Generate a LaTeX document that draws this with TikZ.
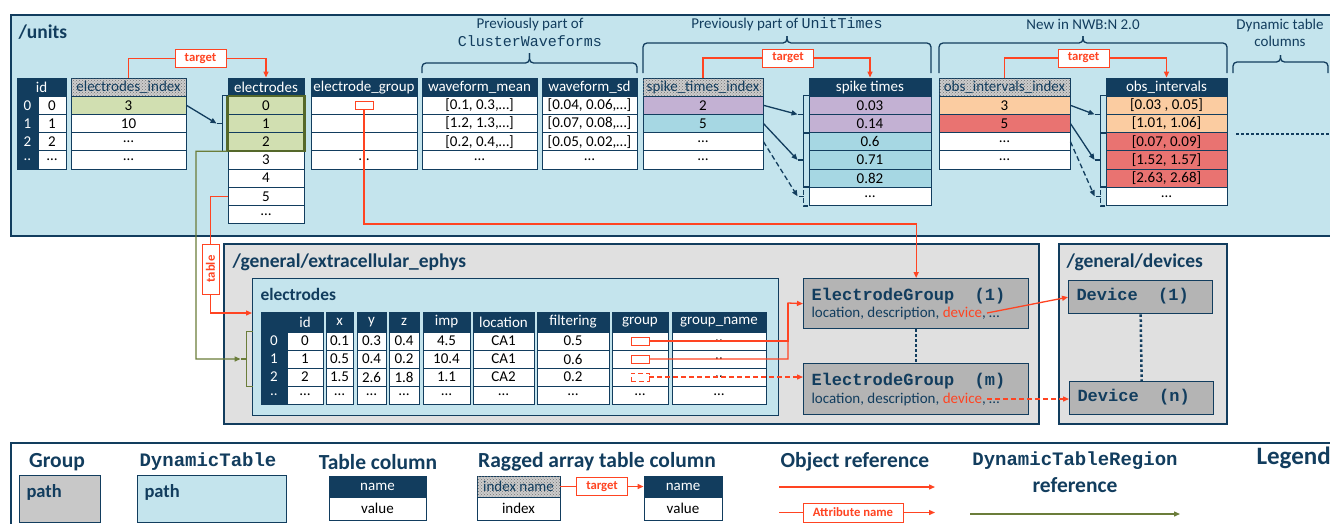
\documentclass[tikz,border=0pt]{standalone}
\usepackage{fontspec}
\setmainfont{Carlito}
\newfontfamily\mono{Liberation Mono}
\usetikzlibrary{arrows.meta,calc,patterns}
\definecolor{cnavy}{HTML}{123D5E}
\definecolor{lblue}{HTML}{C4E4ED}
\definecolor{grayg}{HTML}{E0E0E0}
\definecolor{grayd}{HTML}{B4B4B4}
\definecolor{grayl}{HTML}{C8C8C8}
\definecolor{cgreen}{HTML}{D1DFB1}
\definecolor{colive}{HTML}{6B7D3A}
\definecolor{colived}{HTML}{55682A}
\definecolor{cpurple}{HTML}{C3B1D3}
\definecolor{ccyan}{HTML}{A6D7E3}
\definecolor{corange}{HTML}{FBCCA1}
\definecolor{csalmon}{HTML}{E97371}
\definecolor{redc}{HTML}{FF4422}
\newcommand\myfs[1]{\fontsize{#1}{\dimexpr #1pt*115/100\relax}\selectfont}
\def\hh{18.2}\def\rh{18.2}
\newcommand\mkcells[5]{%
  \pgfmathsetmacro\cx{(#2+#3)/2}\pgfmathsetmacro\cw{#3-#2}%
  \foreach \fc/\tx [count=\kk from 0] in {#5} {%
    \node[cell,\fc,minimum width=\cw*1pt] (#1-\kk) at (\cx,{#4+\hh+\rh*\kk+\rh/2}) {\tx};}%
}
\newcommand\mkcol[7]{%
  \pgfmathsetmacro\cx{(#2+#3)/2}\pgfmathsetmacro\cw{#3-#2}%
  \node[#5,minimum width=\cw*1pt,minimum height=\hh*1pt] (#1-h) at (\cx,{#4+\hh/2}) {#6};
  \mkcells{#1}{#2}{#3}{#4}{#7}%
}
\newcommand\brkt[4]{%
  \draw[#4] (#1.north west) -- ++(-5,0) |- (#2.south west);
  \draw[#4] ($(#1.north west)!0.5!(#2.south west)+(-5,0)$) -- ++(-6,0) coordinate (#3);
}
\newcommand\cbrace[5]{%
  \pgfmathsetmacro\xm{(#1+#2)/2}%
  \draw[nv, rounded corners=4pt] (#1,#3) -- (#1,#4) -- (\xm,#4) -- (\xm,#5);
  \draw[nv, rounded corners=4pt] (#2,#3) -- (#2,#4) -- (\xm,#4) -- (\xm,#5);
}
\tikzset{
  cell/.style={draw=cnavy, line width=0.9pt, minimum height=\rh*1pt, inner sep=0pt, font=\myfs{15}, text=black, fill=white},
  hdr/.style={cell, fill=cnavy, text=white},
  hatch/.style={cell, fill=gray!40, postaction={pattern=crosshatch dots, pattern color=black!55}, text=cnavy},
  cw/.style={fill=white}, cg/.style={fill=cgreen}, cp/.style={fill=cpurple},
  cb/.style={fill=ccyan}, co/.style={fill=corange}, cr/.style={fill=csalmon},
  cd/.style={fill=cnavy, text=white},
  dsh/.style={dash pattern=on 5pt off 3pt},
  nv/.style={draw=cnavy, line width=1.3pt},
  nva/.style={nv, -{Triangle[length=6pt,width=5pt]}},
  rl/.style={draw=redc, line width=1.3pt},
  rla/.style={rl, -{Triangle[length=6pt,width=5pt]}},
  olv/.style={draw=colive, line width=1.3pt},
  olva/.style={olv, -{Triangle[length=6pt,width=5pt]}},
  tgt/.style={draw=redc, fill=white, line width=1pt, text=redc, font=\bfseries\myfs{12.7}, minimum width=51pt, minimum height=18pt, inner sep=1pt},
  gm/.style={draw=redc, line width=0.9pt, fill=white, minimum width=18pt, minimum height=8pt, inner sep=0pt},
  gbox/.style={draw=cnavy, line width=1.5pt, fill=grayg, inner sep=0pt},
  ebox/.style={draw=cnavy, line width=1.3pt, fill=grayd, inner sep=0pt},
  ubox/.style={draw=cnavy, line width=1.8pt, fill=lblue, inner sep=0pt},
  lbl/.style={text=cnavy, font=\myfs{15}},
  ttl/.style={text=cnavy, font=\bfseries\myfs{19.5}, anchor=west},
  ltitle/.style={text=cnavy, font=\bfseries\myfs{21.5}},
  dotv/.style={draw=cnavy, line width=2.5pt, dash pattern=on 2.5pt off 2.5pt},
  mt/.style={text=cnavy, font=\mono\bfseries\myfs{17}, anchor=west},
}
\begin{document}
\begin{tikzpicture}[x=1pt,y=-1pt]
\useasboundingbox (0,0) rectangle (1330,523);
\clip (0,0) rectangle (1330,523);
\fill[white] (0,0) rectangle (1330,523);

% ---------- /units ----------
\node[ubox, anchor=north west, minimum width=1340pt, minimum height=221pt] (units) at (10,14) {};
\node[ttl] (unitsT) at (15,32) {/units};

\node[hdr, minimum width=49pt, minimum height=18.2pt] (id-h) at (41.5,87.1) {id};
\mkcells{ix}{17}{38}{78}{cd/0,cd/1,cd/2,cd/..}
\mkcells{id}{38}{66}{78}{cw/0,cw/1,cw/2,cw/\ldots}
\mkcol{ei}{71}{186}{78}{hatch}{electrodes\_index}{cg/3,cw/10,cw/\ldots,cw/\ldots}
\mkcol{el}{228}{304}{78}{hdr}{electrodes}{cg/0,cg/1,cg/2,cw/3,cw/4,cw/5,cw/\ldots}
\mkcol{eg}{311}{417}{78}{hdr}{electrode\_group}{cw/{},cw/{},cw/{},cw/\ldots}
\mkcol{wm}{422}{537}{78}{hdr}{waveform\_mean}{cw/{[0.1, 0.3,\ldots]},cw/{[1.2, 1.3,\ldots]},cw/{[0.2, 0.4,\ldots]},cw/\ldots}
\mkcol{ws}{542}{637}{78}{hdr}{waveform\_sd}{cw/{[0.04, 0.06,\ldots]},cw/{[0.07, 0.08,\ldots]},cw/{[0.05, 0.02,\ldots]},cw/\ldots}
\mkcol{sti}{643}{763}{78}{hatch}{spike\_times\_index}{cp/2,cb/5,cw/\ldots,cw/\ldots}
\mkcol{st}{809}{931}{78}{hdr}{spike times}{cp/0.03,cp/0.14,cb/0.6,cb/0.71,cb/0.82,cw/\ldots}
\mkcol{oi}{939}{1070}{78}{hatch}{obs\_intervals\_index}{co/3,cr/5,cw/\ldots,cw/\ldots}
\mkcol{oc}{1106}{1227}{78}{hdr}{obs\_intervals}{co/{[0.03 , 0.05]},co/{[1.01, 1.06]},cr/{[0.07, 0.09]},cr/{[1.52, 1.57]},cr/{[2.63, 2.68]},cw/\ldots}

\draw[draw=colived, line width=2.4pt] (el-0.north west) rectangle (el-2.south east);

% targets
\node[tgt] (t1) at (200.5,58.5) {target};
\draw[rl] (ei-h.north) |- (t1.west);
\draw[rla] (t1.east) -| (el-h.north);
\node[tgt] (t2) at (788,58) {target};
\draw[rl] (sti-h.north) |- (t2.west);
\draw[rla] (t2.east) -| (st-h.north);
\node[tgt] (t3) at (1083.5,58) {target};
\draw[rl] (oi-h.north) |- (t3.west);
\draw[rla] (t3.east) -| (oc-h.north);

% brackets
\brkt{el-0}{el-2}{bel}{nv}
\draw[nva] (ei-0.east) -- (bel);
\brkt{st-0}{st-1}{bs1}{nv}
\brkt{st-2}{st-4}{bs2}{nv}
\brkt{st-5}{st-5}{bs3}{nv,dsh}
\draw[nva] (sti-0.east) -- (bs1);
\draw[nva] (sti-1.east) -- (bs2);
\draw[nva,dsh] (sti-2.east) -- (bs3);
\brkt{oc-0}{oc-1}{bo1}{nv}
\brkt{oc-2}{oc-4}{bo2}{nv}
\brkt{oc-5}{oc-5}{bo3}{nv,dsh}
\draw[nva] (oi-0.east) -- (bo1);
\draw[nva] (oi-1.east) -- (bo2);
\draw[nva,dsh] (oi-2.east) -- (bo3);

% braces and labels
\cbrace{422}{637}{73}{63}{53}
\cbrace{643}{931}{73}{43}{36}
\cbrace{939}{1227}{73}{43}{36}
\cbrace{1233}{1328}{73}{62}{55}
\node[lbl] (l1) at (530,24) {Previously part of};
\node[lbl, font=\mono\myfs{15}] (l1b) at (530,41) {ClusterWaveforms};
\node[lbl] (l2) at (787,24) {Previously part of {\mono UnitTimes}};
\node[lbl] (l3) at (1083,24) {New in NWB:N 2.0};
\node[lbl, align=center] (l4) at (1280,32.5) {Dynamic table\\columns};
\coordinate (dd1) at (1236,134);
\coordinate (dd2) at (1330,134);
\draw[dotv] (dd1) -- (dd2);

% electrode group marker
\node[gm] (egr) at (eg-0.center) {};

% ---------- /general/extracellular_ephys ----------
\node[gbox, anchor=north west, minimum width=815pt, minimum height=180pt] (ext) at (223,243) {};
\node[ttl] (extT) at (229,262) {/general/extracellular\_ephys};
\node[ubox, line width=1.4pt, anchor=north west, minimum width=526pt, minimum height=137pt] (dt) at (252,278) {};
\node[ttl, font=\bfseries\myfs{17.4}] (dtT) at (257,294) {electrodes};

\def\hh{20}\def\rh{18}
\mkcol{bi}{261}{287}{312}{hdr}{}{cd/0,cd/1,cd/2,cd/..}
\mkcol{bid}{287}{323}{312}{hdr}{id}{cw/0,cw/1,cw/2,cw/\ldots}
\mkcol{bx}{326}{353}{312}{hdr}{x}{cw/0.1,cw/0.5,cw/1.5,cw/\ldots}
\mkcol{by}{357}{386}{312}{hdr}{y}{cw/0.3,cw/0.4,cw/2.6,cw/\ldots}
\mkcol{bz}{389}{419}{312}{hdr}{z}{cw/0.4,cw/0.2,cw/1.8,cw/\ldots}
\mkcol{bimp}{423}{470}{312}{hdr}{imp}{cw/4.5,cw/10.4,cw/1.1,cw/\ldots}
\mkcol{bloc}{473}{534}{312}{hdr}{location}{cw/CA1,cw/CA1,cw/CA2,cw/\ldots}
\mkcol{bfil}{537}{609}{312}{hdr}{filtering}{cw/0.5,cw/0.6,cw/0.2,cw/\ldots}
\mkcol{bgr}{612}{668}{312}{hdr}{group}{cw/{},cw/{},cw/{},cw/\ldots}
\mkcol{bgn}{672}{766}{312}{hdr}{group\_name}{cw/..,cw/..,cw/..,cw/\ldots}

\node[gm] (gm0) at (bgr-0.center) {};
\node[gm] (gm1) at (bgr-1.center) {};
\node[gm, dsh] (gm2) at (bgr-2.center) {};

\node[ebox, anchor=north west, minimum width=225pt, minimum height=50pt] (eg1) at (803,278) {};
\node[ebox, anchor=north west, minimum width=225pt, minimum height=51pt] (egm) at (803,363) {};
\node[mt] (eg1t) at (808,296) {ElectrodeGroup\ \ (1)};
\node[anchor=west, font=\myfs{15}, text=cnavy] (eg1s) at (808,313.5) {location, description, {\color{redc}device}, \ldots};
\node[mt] (egmt) at (808,381) {ElectrodeGroup\ \ (m)};
\node[anchor=west, font=\myfs{15}, text=cnavy] (egms) at (808,399) {location, description, {\color{redc}device}, \ldots};
\draw[dotv] (eg1.south) -- (egm.north);

% ---------- /general/devices ----------
\node[gbox, anchor=north west, minimum width=168pt, minimum height=180pt] (devs) at (1058,243) {};
\node[ttl] (devT) at (1063,262) {/general/devices};
\node[ebox, anchor=north west, minimum width=144pt, minimum height=33pt] (d1) at (1068,280) {};
\node[ebox, anchor=north west, minimum width=144pt, minimum height=33pt] (dn) at (1069,381) {};
\node[mt] (d1t) at (1073,296.5) {Device\ \ (1)};
\node[mt] (dnt) at (1074,397.5) {Device\ \ (n)};
\draw[dotv] (d1.south) -- (dn.north);

% ---------- connectors ----------
\coordinate (c1) at (364,224);
\draw[rla] (egr.south) -- (c1) -| (eg1.north);
\coordinate (jn) at (788,303);
\draw[rl] (gm0.east) -| (jn);
\draw[rla] (gm1.east) -| (jn) -- (eg1.west);
\draw[rla, dsh] (gm2.east) -- (gm2.east -| egm.west);
\coordinate (dv1) at (987,313);
\draw[rla] (dv1) -- (d1.west);
\coordinate (dvm) at (987,399);
\draw[rla, dsh] (dvm) -- (dvm -| dn.west);

\node[tgt, rotate=90, minimum width=50pt, minimum height=17pt] (tbl) at (210.5,269) {table};
\draw[rl] (el-5.west) -| (tbl.east);
\draw[rla] (tbl.west) |- ($(dt.north west)+(0,35)$);

\draw[olv] ($(bi-0.north west)+(-8,0)$) -- ++(-6,0) |- ($(bi-2.south west)+(-8,0)$);
\coordinate (gbt) at ($(bi-0.north west)!0.5!(bi-2.south west)+(-20,0)$);
\draw[olv] ($(bi-0.north west)!0.5!(bi-2.south west)+(-14,0)$) -- (gbt);
\coordinate (gturn) at (196,359);
\draw[olva] (el-2.south west) -| (gturn) -- (gbt);

% ---------- legend ----------
\node[draw=cnavy, line width=1.8pt, fill=white, anchor=north west, minimum width=1340pt, minimum height=100pt] (leg) at (10,442) {};
\node[ltitle] (lg1) at (57,462) {Group};
\node[ltitle, font=\mono\bfseries\myfs{19}] (lg2) at (208,462) {DynamicTable};
\node[ltitle] (lg3) at (378,462) {Table column};
\node[ltitle] (lg4) at (597,462) {Ragged array table column};
\node[ltitle] (lg5) at (855,462) {Object reference};
\node[ltitle, font=\mono\bfseries\myfs{19}] (lg6) at (1075,461) {DynamicTableRegion};
\node[ltitle] (lg7) at (1075,485) {reference};
\node[ltitle, font=\bfseries\myfs{25}, anchor=west] (lg8) at (1253,458) {Legend};

\node[draw=cnavy, line width=1.3pt, fill=grayl, anchor=north west, minimum width=81pt, minimum height=47pt] (lgb) at (19,475) {};
\node[anchor=west, font=\bfseries\myfs{18.5}, text=cnavy] (lgbt) at (23,492) {path};
\node[ubox, line width=1.3pt, anchor=north west, minimum width=149pt, minimum height=47pt] (ldb) at (137,475) {};
\node[anchor=west, font=\bfseries\myfs{18.5}, text=cnavy] (ldbt) at (141,492) {path};

\def\hh{21}\def\rh{23}
\mkcol{ltc}{329}{426}{476}{hdr}{name}{cw/value}
\mkcol{lri}{477}{560}{476}{hatch}{index name}{cw/index}
\mkcol{lrn}{644}{722}{476}{hdr}{name}{cw/value}
\node[tgt] (lt) at (602,486.5) {target};
\draw[rl] (lri-h.east) -- (lt.west);
\draw[rla] (lt.east) -- (lrn-h.west);

\coordinate (o1a) at (779,487);
\coordinate (o1b) at (935,487);
\draw[rla] (o1a) -- (o1b);
\node[tgt, minimum width=100pt, minimum height=19pt] (lat) at (853,512.5) {Attribute name};
\coordinate (o2a) at (779,512.5);
\coordinate (o2b) at (935,512.5);
\draw[rl] (o2a) -- (lat.west);
\draw[rla] (lat.east) -- (o2b);
\coordinate (gr1) at (970,514);
\coordinate (gr2) at (1180,514);
\draw[olva] (gr1) -- (gr2);
\end{tikzpicture}
\end{document}
